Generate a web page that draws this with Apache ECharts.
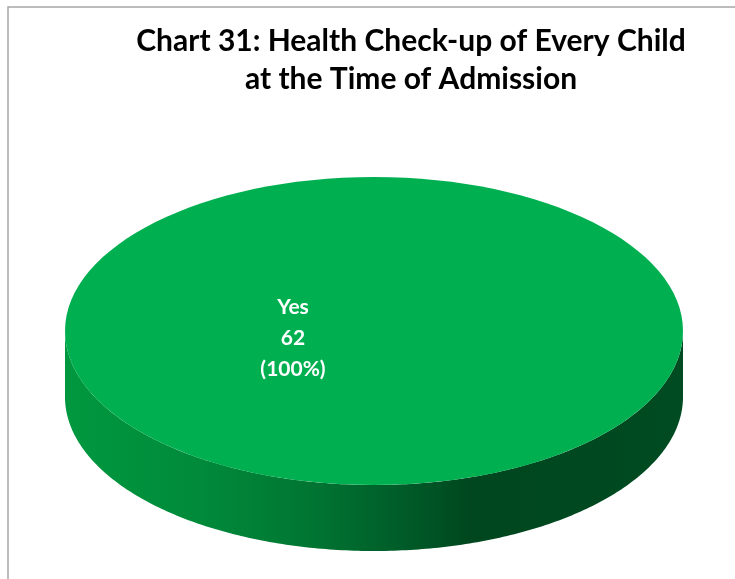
<!DOCTYPE html>
<html>
<head>
<meta charset="utf-8">
<script src="https://cdn.jsdelivr.net/npm/echarts@6/dist/echarts.min.js"></script>
<style>
html,body{margin:0;padding:0;background:#fff;}
#chart{width:735px;height:579px;}
</style>
</head>
<body>
<div id="chart"></div>
<script>
// ---- data ----
var categories = ['Yes'];
var values = [62];
var colors = ['#00B050'];
var titleText = 'Chart 31: Health Check-up of Every Child\nat the Time of Admission';

var total = values.reduce(function (a, b) { return a + b; }, 0);
var seriesData = categories.map(function (c, i) {
  var start = values.slice(0, i).reduce(function (a, b) { return a + b; }, 0);
  return { name: c, value: [values[i], start] };
});

// geometry of the 3D pie
var CX = 374, CY = 331, RX = 309, RY = 154, DEPTH = 66;

function pt(a, dy) { // a: angle clockwise from 12 o'clock
  return [CX + RX * Math.sin(a), CY - RY * Math.cos(a) + (dy || 0)];
}

function renderItem(params, api) {
  var v = api.value(0), start = api.value(1);
  var a0 = start / total * Math.PI * 2;
  var a1 = (start + v) / total * Math.PI * 2;
  var full = v >= total;
  var steps = 240, i, a;
  var children = [];

  // side wall (front part: angles between PI/2 and 3PI/2)
  var s0 = Math.max(a0, Math.PI / 2), s1 = Math.min(a1, Math.PI * 3 / 2);
  if (s1 > s0) {
    var top = [], bottom = [];
    for (i = 0; i <= steps; i++) {
      a = s0 + (s1 - s0) * i / steps;
      top.push(pt(a, 0));
      bottom.push(pt(a, DEPTH));
    }
    var wall = top.concat(bottom.reverse());
    children.push({
      type: 'polygon',
      shape: { points: wall },
      style: {
        fill: new echarts.graphic.LinearGradient(0, 0, 1, 0, [
          { offset: 0, color: '#00983f' },
          { offset: 0.22, color: '#008a3a' },
          { offset: 0.40, color: '#007532' },
          { offset: 0.55, color: '#005b28' },
          { offset: 0.66, color: '#00461e' },
          { offset: 1, color: '#004b21' }
        ], false)
      }
    });
  }

  // top face
  if (full) {
    children.push({
      type: 'ellipse',
      shape: { cx: CX, cy: CY, rx: RX, ry: RY },
      style: { fill: colors[params.dataIndex % colors.length] }
    });
  } else {
    var pts = [[CX, CY]];
    for (i = 0; i <= steps; i++) pts.push(pt(a0 + (a1 - a0) * i / steps, 0));
    children.push({
      type: 'polygon',
      shape: { points: pts },
      style: { fill: colors[params.dataIndex % colors.length] }
    });
  }

  // label
  var pct = Math.round(v / total * 100);
  children.push({
    type: 'text',
    style: {
      text: categories[params.dataIndex] + '\n' + v + '\n(' + pct + '%)',
      x: CX - 81, y: CY + 7,
      align: 'center', verticalAlign: 'middle',
      fill: '#ffffff',
      font: 'bold 21px Lato',
      lineHeight: 31
    }
  });
  return { type: 'group', children: children };
}

var chart = echarts.init(document.getElementById('chart'), null, { renderer: 'canvas' });
chart.setOption({
  backgroundColor: '#ffffff',
  animation: false,
  title: {
    text: titleText,
    left: 406,
    top: 17,
    textAlign: 'center',
    textStyle: {
      fontFamily: 'Lato',
      fontWeight: 'bold',
      fontSize: 30,
      lineHeight: 38,
      color: '#000000'
    }
  },
  graphic: [{
    type: 'rect',
    shape: { x: 8, y: 7, width: 760, height: 620 },
    style: { fill: 'none', stroke: '#a6a6a6', lineWidth: 1.5 },
    silent: true
  }],
  series: [{
    type: 'custom',
    coordinateSystem: 'none',
    renderItem: renderItem,
    data: seriesData
  }]
});
</script>
</body>
</html>
